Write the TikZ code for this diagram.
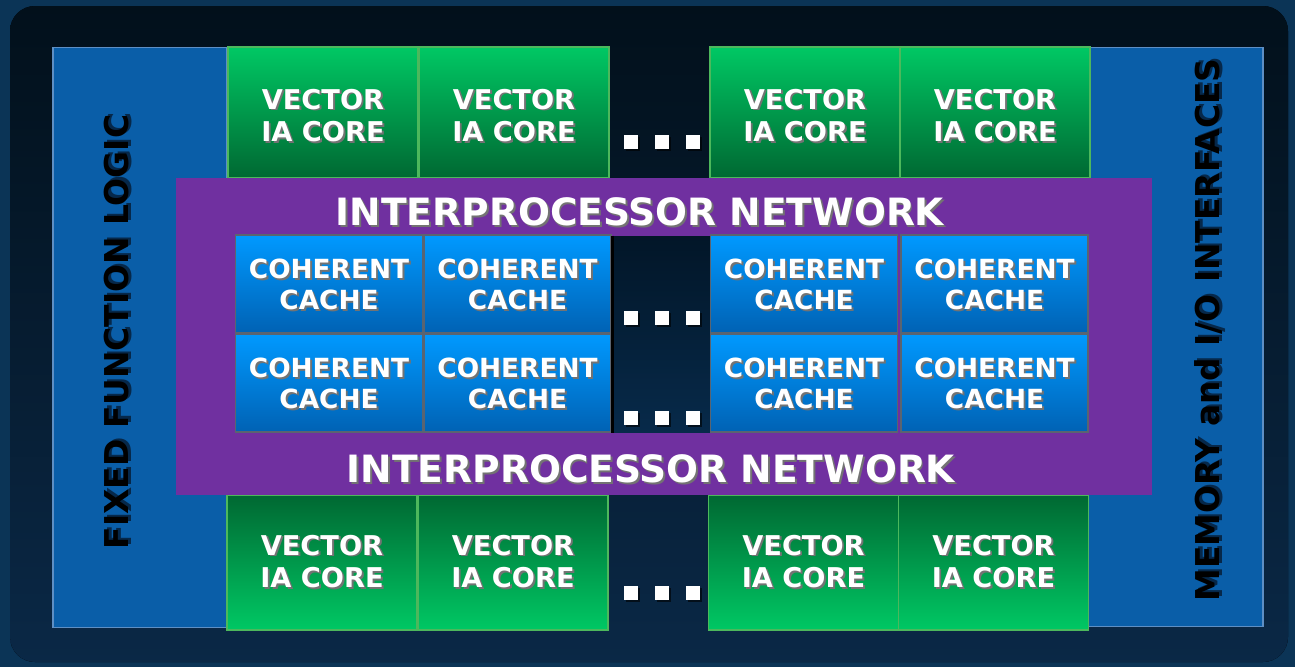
\documentclass[tikz,border=0pt]{standalone}
\usepackage{fontspec}
\setmainfont{DejaVu Sans}
\usepackage{tikz}
\usetikzlibrary{positioning,shadings,shadows}

\definecolor{bgblue}{HTML}{0B3456}
\definecolor{paneltop}{HTML}{02101B}
\definecolor{panelbot}{HTML}{0A2846}
\definecolor{sideblue}{HTML}{0A5EA8}
\definecolor{sideedge}{HTML}{5E8FC4}
\definecolor{coreltgreen}{HTML}{00C864}
\definecolor{coredkgreen}{HTML}{006832}
\definecolor{coreedge}{HTML}{4DB85C}
\definecolor{netpurple}{HTML}{7030A0}
\definecolor{cachelt}{HTML}{0099FF}
\definecolor{cachedk}{HTML}{0062B4}
\definecolor{cachegrid}{HTML}{5A6470}
\definecolor{gaptop}{HTML}{021628}
\definecolor{gapbot}{HTML}{072A4A}
\definecolor{halo}{HTML}{06284A}

% white lettering with a soft drop shadow
\newcommand{\shd}[1]{\makebox[0pt][l]{\hspace{1.1pt}\raisebox{-1.1pt}{\color{black!55}#1}}#1}
% black lettering on the side bars
\newcommand{\shdk}[1]{\makebox[0pt][l]{\hspace{1.2pt}\raisebox{-1.2pt}{\color{halo}#1}}#1}

\begin{document}
\begin{tikzpicture}[x=0.02cm,y=-0.02cm,
    core/.style={rectangle,minimum width=3.8cm,minimum height=2.62cm,inner sep=0pt,
      draw=coreedge,line width=0.6pt},
    coretop/.style={core,top color=coreltgreen,bottom color=coredkgreen},
    corebot/.style={core,minimum height=2.7cm,top color=coredkgreen,bottom color=coreltgreen},
    cache/.style={rectangle,minimum width=3.74cm,minimum height=1.96cm,inner sep=0pt,
      draw=cachegrid,line width=1pt,top color=cachelt,bottom color=cachedk},
    side/.style={rectangle,minimum width=3.48cm,minimum height=11.62cm,inner sep=0pt,
      fill=sideblue,draw=sideedge,line width=0.6pt},
    coretext/.style={text=white,align=center,font=\bfseries\fontsize{15.5}{18.7}\selectfont},
    cachetext/.style={text=white,align=center,font=\bfseries\fontsize{15}{17.6}\selectfont},
    nettext/.style={text=white,font=\bfseries\fontsize{21.4}{24}\selectfont},
    sidetext/.style={text=black,rotate=90,font=\bfseries\fontsize{18.7}{22}\selectfont},
    dotbox/.style={rectangle,fill=white,minimum size=0.28cm,inner sep=0pt,
      drop shadow={shadow xshift=1pt,shadow yshift=-1pt,fill=black,opacity=.6}}
  ]
  \useasboundingbox (0,0) rectangle (1295,667);

  % backdrop and dark panel
  \fill[bgblue] (0,0) rectangle (1295,667);
  \fill[top color=paneltop,bottom color=panelbot,rounded corners=0.5cm] (10,6) rectangle (1288,662);

  % side bars
  \node[side] (fixed) at (140,337.5) {};
  \node[side,minimum width=3.5cm,minimum height=11.6cm] (memio) at (1175.5,337) {};
  \node[sidetext] (fixedtxt) at (118,332) {\shdk{FIXED FUNCTION LOGIC}};
  \node[sidetext] (memiotxt) at (1210,330) {\shdk{MEMORY and I/O INTERFACES}};

  % cores, upper row
  \node[coretop] (c1) at (323,112.5) {};
  \node[coretop] (c2) at (514,112.5) {};
  \node[coretop] (c3) at (805,112.5) {};
  \node[coretop] (c4) at (995,112.5) {};

  % cores, lower row
  \node[corebot] (c5) at (322,562.5) {};
  \node[corebot] (c6) at (513,562.5) {};
  \node[corebot] (c7) at (803.5,562.5) {};
  \node[corebot] (c8) at (993.5,562.5) {};

  \foreach \c in {1,...,4}
    \node[coretext,yshift=-0.08cm] (ct\c) at (c\c) {\shd{VECTOR}\\\shd{IA CORE}};
  \foreach \c in {5,...,8}
    \node[coretext] (ct\c) at (c\c) {\shd{VECTOR}\\\shd{IA CORE}};

  % interprocessor network
  \node[rectangle,fill=netpurple,minimum width=19.52cm,minimum height=6.34cm,inner sep=0pt]
    (net) at (664,336.5) {};
  \node[nettext] (nettop) at (640,213) {\shd{INTERPROCESSOR NETWORK}};
  \node[nettext] (netbot) at (651,470) {\shd{INTERPROCESSOR NETWORK}};

  % coherent caches
  \node[cache] (k1) at (329,284) {};
  \node[cache] (k2) at (517.5,284) {};
  \node[cache] (k3) at (804,284) {};
  \node[cache] (k4) at (994.5,284) {};
  \node[cache] (k5) at (329,383) {};
  \node[cache] (k6) at (517.5,383) {};
  \node[cache] (k7) at (804,383) {};
  \node[cache] (k8) at (994.5,383) {};
  \foreach \k in {1,...,8}
    \node[cachetext,yshift=-0.03cm] (kt\k) at (k\k) {\shd{COHERENT}\\\shd{CACHE}};

  % open slot between the cache halves
  \node[rectangle,minimum width=1.94cm,minimum height=3.94cm,inner sep=0pt,
    top color=gaptop,bottom color=gapbot] (gap) at (661.5,334.5) {};
  \draw[black,line width=1.4pt] (gap.north west) -- (gap.south west);

  % ellipsis marks
  \foreach \r/\y in {1/142,2/318,3/418,4/593}
    \foreach \i/\x in {1/631,2/662,3/693}
      \node[dotbox] (dot\r\i) at (\x,\y) {};
\end{tikzpicture}
\end{document}
